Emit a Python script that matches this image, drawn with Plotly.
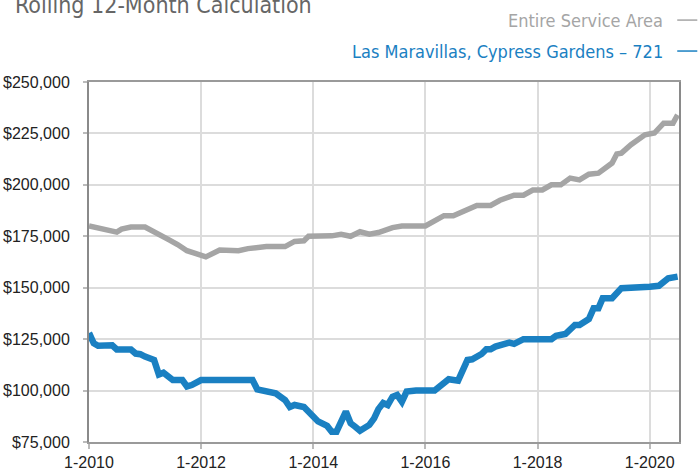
import plotly.graph_objects as go

# ---- data ----
gray_dates = ["2010-01-01","2010-03-01","2010-05-01","2010-07-01","2010-08-01","2010-10-01",
              "2011-01-01","2011-04-01","2011-06-01","2011-08-01","2011-10-01","2012-02-01",
              "2012-05-01","2012-09-01","2012-11-01","2013-03-01","2013-07-01","2013-09-01",
              "2013-11-01","2013-12-01","2014-05-01","2014-07-01","2014-09-01","2014-11-01",
              "2015-01-01","2015-03-01","2015-06-01","2015-08-01","2016-01-01","2016-05-01",
              "2016-07-01","2016-12-01","2017-03-01","2017-05-01","2017-08-01","2017-10-01",
              "2017-12-01","2018-02-01","2018-04-01","2018-06-01","2018-08-01","2018-10-01",
              "2018-12-01","2019-02-01","2019-05-01","2019-06-01","2019-07-01","2019-09-01",
              "2019-12-01","2020-02-01","2020-04-01","2020-06-01","2020-07-01"]
gray_values = [180000,179000,178000,177000,178500,179500,
               179500,175500,173500,171000,168000,165000,
               168300,168000,169000,170000,170000,172500,
               172800,175000,175200,176000,175000,177200,
               176000,176800,179200,180000,180000,185000,
               185000,190000,190000,192500,195000,195000,
               197500,197500,200000,200000,203300,202400,
               205200,205700,210600,215000,215400,219500,
               224300,225200,230000,230000,234000]

blue_dates = ["2010-01-01","2010-02-01","2010-03-01","2010-06-01","2010-07-01","2010-10-01",
              "2010-11-01","2010-12-01","2011-01-01","2011-03-01","2011-04-01","2011-05-01",
              "2011-07-01","2011-09-01","2011-10-01","2011-11-01","2012-01-01","2012-12-01",
              "2013-01-01","2013-03-01","2013-05-01","2013-07-01","2013-08-01","2013-09-01",
              "2013-11-01","2014-02-01","2014-04-01","2014-05-01","2014-06-01","2014-08-01",
              "2014-09-01","2014-10-01","2014-11-01","2015-01-01","2015-02-01","2015-03-01",
              "2015-04-01","2015-05-01","2015-06-01","2015-07-01","2015-08-01","2015-09-01",
              "2015-11-01","2016-03-01","2016-05-01","2016-06-01","2016-08-01","2016-09-01",
              "2016-10-01","2016-11-01","2017-01-01","2017-02-01","2017-03-01","2017-04-01",
              "2017-06-01","2017-07-01","2017-08-01","2017-10-01","2018-04-01","2018-05-01",
              "2018-07-01","2018-09-01","2018-10-01","2018-12-01","2019-01-01","2019-02-01",
              "2019-03-01","2019-05-01","2019-07-01","2019-12-01","2020-01-01","2020-03-01",
              "2020-05-01","2020-07-01"]
blue_values = [128000,123000,121800,122000,120000,120000,
               118000,117700,116500,114900,107800,108700,
               105100,105100,102000,102700,105100,105100,
               100600,99500,98700,95400,92000,93000,
               92000,85000,82800,80000,80000,89800,
               84100,82400,80500,83300,86500,91000,
               94000,93000,97000,97900,94600,99500,
               100000,100000,104300,105500,104800,110000,
               114900,115200,117800,120100,120100,121400,
               122200,123300,122700,125000,125000,126600,
               127500,131900,131900,134800,140000,140000,
               144900,144900,149800,149800,150500,150900,
               154600,155400]

x_tick_vals = ["2010-01-01","2012-01-01","2014-01-01","2016-01-01","2018-01-01","2020-01-01"]
x_tick_text = ["1-2010","1-2012","1-2014","1-2016","1-2018","1-2020"]
y_tick_vals = [75000,100000,125000,150000,175000,200000,225000,250000]
y_tick_text = ["$75,000","$100,000","$125,000","$150,000","$175,000","$200,000","$225,000","$250,000"]

title_text = "Rolling 12-Month Calculation"
series_names = ["Entire Service Area", "Las Maravillas, Cypress Gardens \u2013 721"]

GRAY = "#a5a5a5"
BLUE = "#1a80c2"
NARROW = "DejaVu Sans Condensed, Liberation Sans Narrow, sans-serif"
TICKFONT = "Liberation Sans, Arial, Helvetica, sans-serif"

fig = go.Figure()
fig.add_trace(go.Scatter(x=gray_dates, y=gray_values, mode="lines", name=series_names[0],
                         line=dict(color=GRAY, width=5.5), hoverinfo="skip"))
fig.add_trace(go.Scatter(x=blue_dates, y=blue_values, mode="lines", name=series_names[1],
                         line=dict(color=BLUE, width=6.5), hoverinfo="skip"))

fig.update_layout(
    width=699, height=468,
    margin=dict(l=89, r=20, t=82, b=26, autoexpand=False),
    paper_bgcolor="white", plot_bgcolor="white",
    showlegend=False,
    xaxis=dict(
        range=["2010-01-01", "2020-07-10"], automargin=False,
        tickvals=x_tick_vals, ticktext=x_tick_text,
        tickfont=dict(family=TICKFONT, size=16, color="#222"),
        showgrid=True, gridcolor="#dcdcdc", gridwidth=1.5,
        showline=True, linecolor="#9a9a9a", linewidth=2, mirror=True,
        ticks="outside", ticklen=5, tickcolor="#bbbbbb", tickwidth=1.5,
        ticklabelstandoff=0,
        zeroline=False,
    ),
    yaxis=dict(
        range=[75000, 250000], automargin=False,
        tickvals=y_tick_vals, ticktext=y_tick_text,
        tickfont=dict(family=TICKFONT, size=16, color="#222"),
        showgrid=True, gridcolor="#dcdcdc", gridwidth=1.5,
        showline=True, linecolor="#8a8a8a", linewidth=2, mirror=True,
        ticks="outside", ticklen=4, tickcolor="#bbbbbb", tickwidth=1.5,
        ticklabelstandoff=10,
        zeroline=False,
    ),
)

fig.add_annotation(text=title_text, xref="paper", yref="paper",
                   x=-0.129, y=1.172, xanchor="left", yanchor="bottom", showarrow=False,
                   font=dict(family=NARROW, size=23, color="#666666"))
fig.add_annotation(text=series_names[0], xref="paper", yref="paper",
                   x=0.976, y=1.172, xanchor="right", yanchor="middle", showarrow=False,
                   font=dict(family=NARROW, size=18, color=GRAY))
fig.add_annotation(text=series_names[1], xref="paper", yref="paper",
                   x=0.976, y=1.086, xanchor="right", yanchor="middle", showarrow=False,
                   font=dict(family=NARROW, size=18, color=BLUE))
fig.add_shape(type="line", xref="paper", yref="paper", x0=0.997, x1=1.031, y0=1.172, y1=1.172,
              line=dict(color=GRAY, width=1.5))
fig.add_shape(type="line", xref="paper", yref="paper", x0=0.997, x1=1.031, y0=1.086, y1=1.086,
              line=dict(color=BLUE, width=1.5))

fig.write_html("out.html", config={"displayModeBar": False},
               post_script="document.body.style.margin='0';")
